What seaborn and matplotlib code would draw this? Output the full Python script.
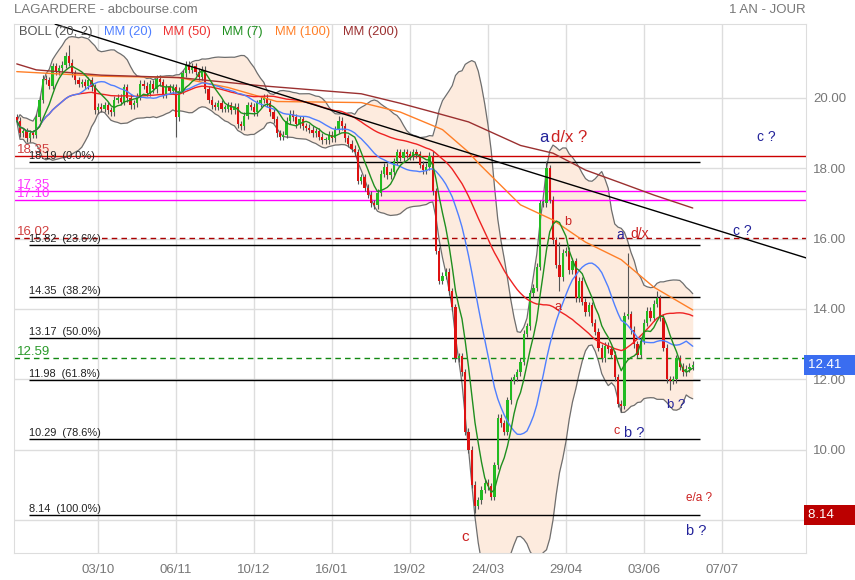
import numpy as np
import pandas as pd
import seaborn as sns
import matplotlib.pyplot as plt

# -----------------------------
# données
# -----------------------------
first_open = 19.45
closes = [
    19.35, 19.0, 19.05, 18.85, 19.0, 18.95, 19.45, 19.95, 20.55, 20.5,
    20.35, 20.9, 20.75, 20.85, 20.95, 21.2, 21.0, 20.7, 20.5, 20.4,
    20.45, 20.35, 20.5, 20.3, 19.65, 19.75, 19.7, 19.8, 19.65, 19.6,
    19.95, 20.0, 19.9, 20.3, 20.0, 19.8, 19.85, 20.05, 20.4, 20.35,
    20.15, 20.4, 20.25, 20.55, 20.45, 20.1, 20.3, 20.2, 20.3, 19.45,
    20.2, 20.7,
    20.95, 20.8, 20.9, 20.75, 20.6, 20.8, 20.25, 19.95, 19.8, 19.75,
    19.85, 19.7, 19.7, 19.8, 19.65, 19.75, 19.25, 19.2, 19.5, 19.8,
    19.75, 19.6, 19.85, 19.95, 20.0, 19.85, 19.6, 19.4, 19.0, 18.9,
    18.95, 19.35, 19.55, 19.45, 19.25, 19.4, 19.2, 19.15, 19.1, 19.0,
    19.05, 18.9, 18.8, 18.8, 18.95, 18.85, 19.1, 19.35, 19.2, 18.85,
    18.7, 18.55, 18.45,
    17.65, 17.75, 17.45, 17.25, 17.0, 16.95, 17.3, 17.85, 18.05, 17.8,
    17.9, 18.2, 18.45, 18.3, 18.45, 18.4, 18.35, 18.45, 18.4, 18.1,
    17.95, 18.05, 18.35, 17.35, 15.65, 14.8, 14.95, 15.05, 14.5, 14.05,
    12.6, 12.65, 12.2, 10.5, 10.0, 9.0,
    8.4, 8.55, 8.85, 9.05, 8.95, 8.65, 9.55, 10.9, 10.75, 10.5,
    11.4, 11.95, 12.05, 12.2, 12.5, 13.3, 13.5, 14.45, 14.6, 15.2,
    17.0, 17.0, 18.0, 17.1, 15.95, 15.25, 14.9, 15.6,
    15.65, 15.1, 15.35, 14.3, 14.8, 14.2, 13.9, 14.1, 13.6, 13.35,
    12.9, 12.6, 12.95, 12.85, 12.7, 12.05, 11.3, 11.25, 13.8, 13.85,
    13.4, 13.0, 12.7, 13.1, 13.6, 13.95, 13.75, 14.15, 14.3, 13.75,
    12.9, 12.0, 11.95, 12.0, 12.6, 12.35, 12.2, 12.3, 12.35, 12.41,
]
# mèches longues visibles
high_marks = {16: 21.5, 99: 19.5, 128: 18.5, 163: 18.2, 167: 15.9, 188: 15.6, 197: 14.5}
low_marks = {3: 18.75, 49: 18.9, 110: 16.85, 141: 8.2, 167: 14.5, 186: 11.06, 201: 11.7}

# MM100 / MM200 (historique hors graphique), lues point par point
mm100_idx = [0, 26, 50, 65, 80, 106, 118, 131, 139, 142, 155, 165, 175, 186, 196, 208]
mm100_val = [20.75, 20.62, 20.58, 20.3, 19.9, 19.87, 19.6, 19.1, 18.46, 18.15,
             16.96, 16.53, 15.9, 15.4, 14.62, 13.97]
mm200_idx = [0, 6, 26, 50, 75, 106, 118, 130, 139, 155, 165, 175, 186, 196, 208]
mm200_val = [20.97, 20.8, 20.65, 20.58, 20.35, 20.12, 19.85, 19.55, 19.32,
             18.65, 18.43, 17.95, 17.58, 17.24, 16.87]

# ligne de tendance (2 points)
trend_idx = [11.8, 242.9]
trend_val = [22.1, 15.45]

date_ticks = [25, 49, 73, 97, 121, 145, 169, 193, 217]
date_labels = ["03/10", "06/11", "10/12", "16/01", "19/02", "24/03", "29/04", "03/06", "07/07"]
price_ticks = [8, 10, 12, 14, 16, 18, 20]
price_labels = ["", "10.00", "12.00", "14.00", "16.00", "18.00", "20.00"]

fib_levels = [18.19, 15.82, 14.35, 13.17, 11.98, 10.29, 8.14]
fib_pct = ["0.0%", "23.6%", "38.2%", "50.0%", "61.8%", "78.6%", "100.0%"]

level_vals = [18.35, 17.35, 17.10, 16.02, 12.59]
level_colors = ["#cc0000", "#ff00ff", "#ff00ff", "#aa0000", "#118811"]
level_styles = ["-", "-", "-", (0, (4, 3)), (0, (4, 3))]
level_text_colors = ["#d04040", "#ff33ff", "#ff33ff", "#d04040", "#2a9a2a"]

note_text = ["a", "d/x ?", "c ?", "b", "a", "d/x", "c ?", "a", "b ?", "c", "b ?", "e/a ?", "b ?", "c"]
note_idx = [160.7, 164.4, 227.8, 168.4, 184.4, 188.7, 220.4, 165.6, 200.1, 183.5, 186.8, 205.9, 205.9, 136.7]
note_val = [18.89, 18.89, 18.89, 16.47, 16.1, 16.13, 16.22, 14.05, 11.27, 10.53, 10.47, 8.62, 7.68, 7.51]
note_color = ["navy", "red", "navy", "red", "navy", "red", "navy", "red", "navy", "red", "navy", "red", "navy", "red"]
note_size = [12, 12, 10, 9, 10, 10, 10, 9, 9.5, 9, 10.5, 8.5, 10.5, 11]

# -----------------------------
# calculs
# -----------------------------
df = pd.DataFrame({"close": closes})
df["i"] = np.arange(len(df))
df["open"] = df["close"].shift(1).fillna(first_open)
wick = 0.1
df["high"] = df[["open", "close"]].max(axis=1) + wick
df["low"] = df[["open", "close"]].min(axis=1) - wick
for k, v in high_marks.items():
    df.loc[k, "high"] = v
for k, v in low_marks.items():
    df.loc[k, "low"] = v

df["mm7"] = df["close"].rolling(7, min_periods=1).mean()
df["mm20"] = df["close"].rolling(20, min_periods=1).mean()
df["mm50"] = df["close"].rolling(50, min_periods=1).mean()
sd = df["close"].rolling(20, min_periods=2).std(ddof=0).fillna(0)
df["bb_up"] = df["mm20"] + 2 * sd
df["bb_dn"] = df["mm20"] - 2 * sd

# -----------------------------
# figure
# -----------------------------
sns.set_style("white")
plt.rcParams["font.family"] = ["Liberation Sans", "DejaVu Sans"]

fig = plt.figure(figsize=(8.55, 5.8), dpi=100)
ax = fig.add_axes([14 / 855, 1 - 553 / 580, 792 / 855, 529 / 580])
ax.set_xlim(-0.85, 242.85)
ax.set_ylim(7.056, 22.105)

# bollinger
ax.fill_between(df["i"], df["bb_dn"], df["bb_up"], color="#fdebde", lw=0, zorder=1)
sns.lineplot(x=df["i"], y=df["bb_up"], ax=ax, color="#6e6e6e", lw=0.9, zorder=2)
sns.lineplot(x=df["i"], y=df["bb_dn"], ax=ax, color="#6e6e6e", lw=0.9, zorder=2)

# niveaux horizontaux
for v, c, ls, tc in zip(level_vals, level_colors, level_styles, level_text_colors):
    ax.axhline(v, color=c, lw=1, ls=ls, zorder=2.5)
    ax.text(0.004, v, f"{v:.2f}", color=tc, fontsize=9.5, va="bottom", ha="left",
            transform=ax.get_yaxis_transform(), zorder=6)

for v, p in zip(fib_levels, fib_pct):
    ax.hlines(v, 3.8, 210.2, color="black", lw=1, zorder=2.5)
    ax.text(3.8, v + 0.03, f"{v:.2f}  ({p})", color="#222222", fontsize=7.9,
            va="bottom", ha="left", zorder=6)

# bougies
up = df["close"] >= df["open"]
ax.vlines(df["i"], df["low"], df["high"], color="#555555", lw=0.8, zorder=3)
body = (df["close"] - df["open"]).abs().clip(lower=0.04)
ax.bar(df["i"], body, bottom=df[["open", "close"]].min(axis=1), width=0.65,
       color=np.where(up, "#22bb22", "#dd1111"), lw=0, zorder=3.5)

# moyennes mobiles
sns.lineplot(x=mm100_idx, y=mm100_val, ax=ax, color="#ff7f27", lw=1, zorder=4)
sns.lineplot(x=mm200_idx, y=mm200_val, ax=ax, color="#9b3030", lw=1, zorder=4)
sns.lineplot(x=df["i"], y=df["mm50"], ax=ax, color="#ee2222", lw=1, zorder=4)
sns.lineplot(x=df["i"], y=df["mm20"], ax=ax, color="#4f7fff", lw=1, zorder=4)
sns.lineplot(x=df["i"], y=df["mm7"], ax=ax, color="#1f8f1f", lw=1, zorder=4)

# tendance
ax.plot(trend_idx, trend_val, color="black", lw=1, zorder=4.5)

# annotations
cmap = {"navy": "#23239a", "red": "#cc2222"}
for t, x, y, c, s in zip(note_text, note_idx, note_val, note_color, note_size):
    ax.text(x, y, t, color=cmap[c], fontsize=s, va="center", ha="left", zorder=6)

# axes
ax.set_xticks(date_ticks)
ax.set_xticklabels(date_labels)
ax.set_yticks(price_ticks)
ax.set_yticklabels(price_labels)
ax.yaxis.tick_right()
ax.tick_params(axis="both", length=0, colors="#777777", labelsize=9.5)
ax.tick_params(axis="x", pad=8)
ax.tick_params(axis="y", pad=5)
ax.grid(True, color="#dddddd", lw=1, zorder=0)
ax.set_axisbelow(True)
ax.set_xlabel("")
ax.set_ylabel("")
for s in ax.spines.values():
    s.set_color("#dddddd")
    s.set_visible(True)

# étiquettes de prix à droite
yt = ax.get_yaxis_transform()
ax.text(1.003, 12.41, "12.41   ", transform=yt, color="white", fontsize=9.5, va="center",
        ha="left", clip_on=False, zorder=10,
        bbox=dict(boxstyle="square,pad=0.3", fc="#3a6df0", ec="none"))
ax.text(1.003, 8.14, "8.14     ", transform=yt, color="white", fontsize=9.5, va="center",
        ha="left", clip_on=False, zorder=10,
        bbox=dict(boxstyle="square,pad=0.3", fc="#bb0000", ec="none"))

# légende du haut
leg_text = ["BOLL (20, 2)", "MM (20)", "MM (50)", "MM (7)", "MM (100)", "MM (200)"]
leg_color = ["#555555", "#4f7fff", "#ee3333", "#1f8f1f", "#ff7f27", "#9b3030"]
leg_x = [19.3, 103.7, 162.7, 222, 275, 343]
for t, c, x in zip(leg_text, leg_color, leg_x):
    ax.text((x - 14) / 792, 1 - 8 / 529, t, color=c, fontsize=9.3, va="center",
            ha="left", transform=ax.transAxes, zorder=10)

fig.text(14 / 855, 1 - 10 / 580, "LAGARDERE - abcbourse.com", color="#777777",
         fontsize=9.5, va="center", ha="left")
fig.text(806 / 855, 1 - 10 / 580, "1 AN - JOUR", color="#777777",
         fontsize=9.5, va="center", ha="right")

fig.savefig("out.png", dpi=100)
